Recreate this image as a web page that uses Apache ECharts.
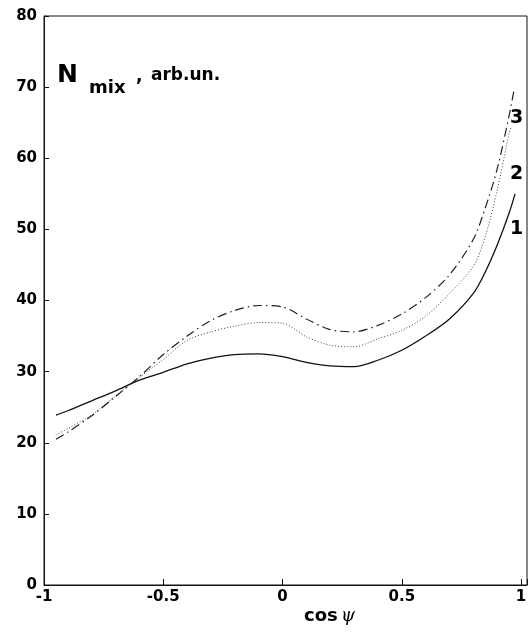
<!DOCTYPE html>
<html>
<head>
<meta charset="utf-8">
<script src="https://cdn.jsdelivr.net/npm/echarts@6/dist/echarts.min.js"></script>
<style>
html,body{margin:0;padding:0;background:#fff;}
#chart{width:530px;height:634px;}
</style>
</head>
<body>
<div id="chart"></div>
<script>
// x values (cos psi) and curve values
const cosPsi = [-0.95,-0.9,-0.8,-0.7,-0.6,-0.5,-0.4,-0.3,-0.2,-0.1,0,0.1,0.2,0.3,0.4,0.5,0.6,0.7,0.8,0.85,0.9,0.95];
const curve1 = [23.9,24.5,25.9,27.3,28.8,29.9,31.1,31.9,32.4,32.5,32.1,31.3,30.8,30.7,31.6,33.0,35.0,37.4,41.0,44.0,47.8,52.3];
const curve2 = [21.1,22.0,23.9,26.6,29.2,31.7,34.4,35.6,36.4,36.9,36.8,34.9,33.7,33.5,34.6,35.8,37.8,41.0,44.8,49.0,55.5,63.5];
const curve3 = [20.5,21.5,23.8,26.5,29.3,32.4,35.0,37.2,38.6,39.3,39.1,37.4,35.9,35.6,36.5,38.1,40.4,43.6,48.6,53.0,58.5,66.0];
// end points of each curve
const end1 = [0.975, 55.0];
const end2 = [0.96, 64.5];
const end3 = [0.97, 69.5];

const xTickLabels = {'-1':'-1','-0.5':'-0.5','0':'0','0.5':'0.5','1':'1'};
const yTickLabels = ['0','10','20','30','40','50','60','70','80'];
const curveNames = ['1','2','3'];

function pairs(ys, end){
  const d = cosPsi.map((x,i)=>[x, ys[i]]);
  d.push(end);
  return d;
}

const chart = echarts.init(document.getElementById('chart'), null, {renderer:'canvas'});
const FONT = 'DejaVu Sans';
const option = {
  animation:false,
  backgroundColor:'#fff',
  grid:{left:44, right:3, top:16, bottom:49, show:true, borderColor:'#111', borderWidth:1},
  xAxis:{
    type:'value', min:-1, max:1.025, interval:0.5,
    splitLine:{show:false},
    axisLine:{show:true, onZero:false, lineStyle:{color:'#111', width:1}},
    axisTick:{show:true, inside:true, length:6, lineStyle:{color:'#111'}},
    axisLabel:{margin:5, color:'#000', fontFamily:FONT, fontWeight:'bold', fontSize:15,
      formatter:v=>{const k=String(Math.round(v*2)/2); return (Math.abs(v*2-Math.round(v*2))<1e-6 && xTickLabels[k]!==undefined)? xTickLabels[k] : '';}}
  },
  yAxis:{
    type:'value', min:0, max:80, interval:10,
    splitLine:{show:false},
    axisLine:{show:true, onZero:false, lineStyle:{color:'#111', width:1}},
    axisTick:{show:true, inside:true, length:5, lineStyle:{color:'#111'}},
    axisLabel:{margin:7, color:'#000', fontFamily:FONT, fontWeight:'bold', fontSize:15,
      formatter:v=>yTickLabels[Math.round(v/10)]}
  },
  series:[
    {name:curveNames[0], type:'line', data:pairs(curve1,end1), smooth:0.3, showSymbol:false,
     lineStyle:{color:'#111', width:1.3, type:'solid'}},
    {name:curveNames[1], type:'line', data:pairs(curve2,end2), smooth:0.3, showSymbol:false,
     lineStyle:{color:'#444', width:1, type:[1,2]}},
    {name:curveNames[2], type:'line', data:pairs(curve3,end3), smooth:0.3, showSymbol:false,
     lineStyle:{color:'#222', width:1.2, type:[9,4,1.5,4]}}
  ],
  graphic:[
    {type:'text', left:57, top:63, style:{text:'N', fontFamily:FONT, fontWeight:'bold', fontSize:25, fill:'#000'}},
    {type:'text', left:89, top:79, style:{text:'mix', fontFamily:FONT, fontWeight:'bold', fontSize:18, fill:'#000'}},
    {type:'text', left:136, top:68, style:{text:',', fontFamily:FONT, fontWeight:'bold', fontSize:17, fill:'#000'}},
    {type:'text', left:151, top:67, style:{text:'arb.un.', fontFamily:FONT, fontWeight:'bold', fontSize:17, fill:'#000'}},
    {type:'text', left:304, top:607, style:{text:'{a|cos} {b|ψ}', fill:'#000',
      rich:{a:{fontFamily:FONT, fontWeight:'bold', fontSize:18, fill:'#000'},
            b:{fontFamily:'DejaVu Serif', fontStyle:'italic', fontSize:18, fill:'#000'}}}},
    {type:'text', left:510, top:109, style:{text:curveNames[2], fontFamily:FONT, fontWeight:'bold', fontSize:19, fill:'#000'}},
    {type:'text', left:510, top:165, style:{text:curveNames[1], fontFamily:FONT, fontWeight:'bold', fontSize:19, fill:'#000'}},
    {type:'text', left:510, top:220, style:{text:curveNames[0], fontFamily:FONT, fontWeight:'bold', fontSize:19, fill:'#000'}}
  ]
};
chart.setOption(option);
</script>
</body>
</html>
